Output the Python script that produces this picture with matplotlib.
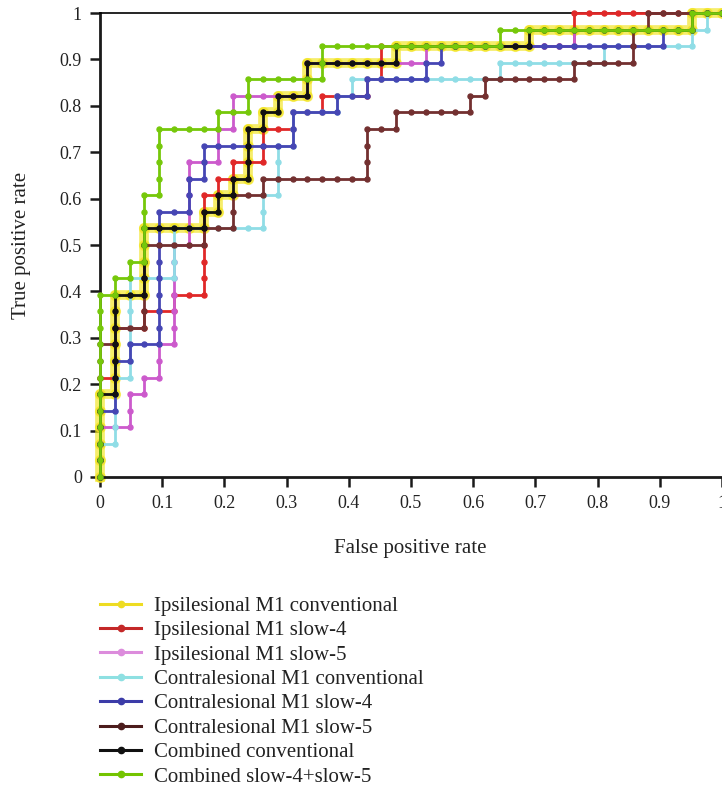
import numpy as np
import matplotlib

matplotlib.use("Agg")
import matplotlib.pyplot as plt  # noqa: E402
from matplotlib.lines import Line2D  # noqa: E402

# 42 negatives, 28 positives -> every ROC step is one case
N_NEG, N_POS = 42, 28

# ROC corners as (false-positive count, true-positive count)
IPSI_CONV = [(0, 0), (0, 5), (1, 5), (1, 11), (3, 11), (3, 15), (7, 15), (7, 16), (8, 16), (8, 17),
             (9, 17), (9, 18), (10, 18), (10, 21), (11, 21), (11, 22), (12, 22), (12, 23), (14, 23),
             (14, 25), (20, 25), (20, 26), (29, 26), (29, 27), (40, 27), (40, 28), (42, 28)]
IPSI_SLOW4 = [(0, 0), (0, 6), (1, 6), (1, 9), (3, 9), (3, 10), (5, 10), (5, 11), (7, 11), (7, 17),
              (8, 17), (8, 18), (9, 18), (9, 19), (11, 19), (11, 21), (13, 21), (13, 22), (15, 22),
              (15, 23), (18, 23), (18, 24), (19, 24), (19, 26), (32, 26), (32, 28), (42, 28)]
IPSI_SLOW5 = [(0, 0), (0, 3), (2, 3), (2, 5), (3, 5), (3, 6), (4, 6), (4, 8), (5, 8), (5, 14),
              (6, 14), (6, 19), (8, 19), (8, 21), (9, 21), (9, 23), (14, 23), (14, 25), (22, 25),
              (22, 26), (32, 26), (32, 27), (40, 27), (40, 28), (42, 28)]
CONTRA_CONV = [(0, 0), (0, 2), (1, 2), (1, 6), (2, 6), (2, 12), (5, 12), (5, 15), (11, 15), (11, 17),
               (12, 17), (12, 20), (13, 20), (13, 22), (16, 22), (16, 23), (17, 23), (17, 24), (27, 24),
               (27, 25), (34, 25), (34, 26), (40, 26), (40, 27), (41, 27), (41, 28), (42, 28)]
CONTRA_SLOW4 = [(0, 0), (0, 4), (1, 4), (1, 7), (2, 7), (2, 8), (4, 8), (4, 16), (6, 16), (6, 18),
                (7, 18), (7, 20), (13, 20), (13, 22), (16, 22), (16, 23), (18, 23), (18, 24), (22, 24),
                (22, 25), (23, 25), (23, 26), (38, 26), (38, 27), (40, 27), (40, 28), (42, 28)]
CONTRA_SLOW5 = [(0, 0), (0, 8), (1, 8), (1, 9), (3, 9), (3, 14), (7, 14), (7, 15), (9, 15), (9, 17),
                (11, 17), (11, 18), (18, 18), (18, 21), (20, 21), (20, 22), (25, 22), (25, 23), (26, 23),
                (26, 24), (32, 24), (32, 25), (36, 25), (36, 27), (37, 27), (37, 28), (42, 28)]
COMB_CONV = [(0, 0), (0, 5), (1, 5), (1, 11), (3, 11), (3, 15), (7, 15), (7, 16), (8, 16), (8, 17),
             (9, 17), (9, 18), (10, 18), (10, 21), (11, 21), (11, 22), (12, 22), (12, 23), (14, 23),
             (14, 25), (20, 25), (20, 26), (29, 26), (29, 27), (40, 27), (40, 28), (42, 28)]
COMB_SLOW = [(0, 0), (0, 11), (1, 11), (1, 12), (2, 12), (2, 13), (3, 13), (3, 17), (4, 17), (4, 21),
             (8, 21), (8, 22), (10, 22), (10, 24), (15, 24), (15, 26), (27, 26), (27, 27), (40, 27),
             (40, 28), (42, 28)]

LABELS = ["Ipsilesional M1 conventional", "Ipsilesional M1 slow-4", "Ipsilesional M1 slow-5",
          "Contralesional M1 conventional", "Contralesional M1 slow-4", "Contralesional M1 slow-5",
          "Combined conventional", "Combined slow-4+slow-5"]
CURVES = [IPSI_CONV, IPSI_SLOW4, IPSI_SLOW5, CONTRA_CONV, CONTRA_SLOW4, CONTRA_SLOW5, COMB_CONV, COMB_SLOW]
PLOT_COLORS = ["#f2e41c", "#e02828", "#cc5acc", "#8fdde6", "#4646b4", "#733030", "#111111", "#76c80a"]
LEGEND_COLORS = ["#eedc22", "#c42828", "#dc8cdc", "#8ee0e2", "#3c3ca8", "#4c1c1c", "#111111", "#74c400"]

TICKS = np.round(np.arange(0, 1.01, 0.1), 1)
TICK_LABELS = ["0"] + [f"{t:.1f}" for t in TICKS[1:-1]] + ["1"]

SERIF = ["Liberation Serif", "DejaVu Serif"]


def unit_steps(corners):
    """Every ROC threshold point along the staircase (one case per step)."""
    fp, tp = [corners[0][0]], [corners[0][1]]
    for (x0, y0), (x1, y1) in zip(corners[:-1], corners[1:]):
        n = max(abs(x1 - x0), abs(y1 - y0))
        for k in range(1, n + 1):
            fp.append(x0 + (x1 - x0) * k / n)
            tp.append(y0 + (y1 - y0) * k / n)
    return np.array(fp) / N_NEG, np.array(tp) / N_POS


def main():
    W, H = 722, 789
    fig = plt.figure(figsize=(W / 100, H / 100), dpi=100)
    ax = fig.add_axes([100 / W, 1 - 477 / H, 622 / W, 464 / H])

    for k, (corners, color) in enumerate(zip(CURVES, PLOT_COLORS)):
        x, y = unit_steps(corners)
        if k == 0:
            # ipsilesional conventional is drawn as a wide soft yellow band
            ax.plot(x, y, color=color, lw=7, alpha=0.65, marker="o", ms=7,
                    solid_joinstyle="round", clip_on=False, zorder=2)
        else:
            ax.plot(x, y, color=color, lw=2.0, marker="o", ms=3.6,
                    clip_on=False, zorder=3 + k)

    ax.set_xlim(0, 1)
    ax.set_ylim(0, 1)
    ax.set_xticks(TICKS)
    ax.set_xticklabels(TICK_LABELS)
    ax.set_yticks(TICKS)
    ax.set_yticklabels(TICK_LABELS)
    ax.tick_params(direction="out", length=7, width=1.8, color="#1a1a1a", pad=6)
    for lab in ax.get_xticklabels() + ax.get_yticklabels():
        lab.set_family(SERIF)
        lab.set_fontsize(13)
        lab.set_color("#222222")
    for side in ("left", "bottom"):
        ax.spines[side].set_linewidth(2.0)
        ax.spines[side].set_color("#1a1a1a")
    ax.spines["top"].set_linewidth(1.2)
    ax.spines["right"].set_visible(False)

    fig.text(22 / W, 1 - 245 / H, "True positive rate", rotation=90, ha="center", va="center",
             family=SERIF, fontsize=15, color="#222222")
    fig.text(410 / W, 1 - 548 / H, "False positive rate", ha="center", va="center",
             family=SERIF, fontsize=15, color="#222222")

    handles = [Line2D([0], [0], color=c, lw=2.2, marker="o", ms=4.5) for c in LEGEND_COLORS]
    leg = fig.legend(handles, LABELS, loc="upper left", bbox_to_anchor=(92 / W, 1 - 588 / H),
                     frameon=False, handlelength=1.95, handletextpad=0.62, labelspacing=0.23,
                     borderaxespad=0, prop={"family": SERIF, "size": 15})
    for t in leg.get_texts():
        t.set_color("#222222")

    fig.savefig("out.png", dpi=100)
    plt.close(fig)


if __name__ == "__main__":
    main()
